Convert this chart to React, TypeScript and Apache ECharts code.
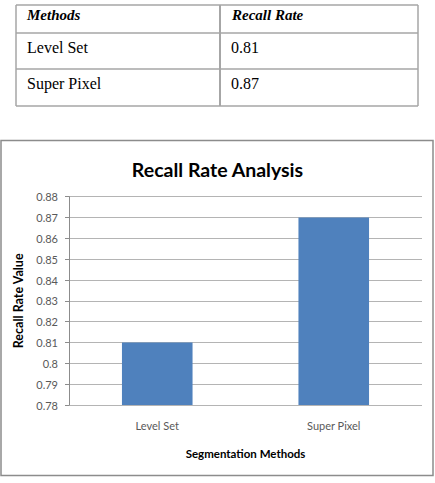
import React, { useEffect, useRef } from "react";
import * as echarts from "echarts";

const methods = ["Level Set", "Super Pixel"];
const recallRates = [0.81, 0.87];
const tableHeaders = ["Methods", "Recall Rate"];
const chartTitle = "Recall Rate Analysis";
const xAxisTitle = "Segmentation Methods";
const yAxisTitle = "Recall Rate Value";
const yMin = 0.78;
const yMax = 0.88;
const yStep = 0.01;

const serif = "'Liberation Serif', 'Times New Roman', serif";
const sans = "Lato, 'Open Sans', sans-serif";

export default function App() {
  const ref = useRef<HTMLDivElement>(null);
  useEffect(() => {
    if (!ref.current) return;
    const chart = echarts.init(ref.current, null, { renderer: "svg" });

    const tableLine = "#a6a6a6";
    const tableX0 = 16, tableX1 = 418, colX = 220;
    const rowYs = [5, 33, 69, 106];
    const textY = [15, 47, 83];
    const graphics: any[] = [];
    rowYs.forEach((y) =>
      graphics.push({ type: "line", shape: { x1: tableX0, y1: y, x2: tableX1, y2: y }, style: { stroke: tableLine, lineWidth: 1.5 } })
    );
    [tableX0, colX, tableX1].forEach((x) =>
      graphics.push({ type: "line", shape: { x1: x, y1: rowYs[0], x2: x, y2: rowYs[3] }, style: { stroke: tableLine, lineWidth: x === colX ? 2 : 1.5 } })
    );
    tableHeaders.forEach((h, i) =>
      graphics.push({
        type: "text",
        x: i === 0 ? 27 : 232,
        y: textY[0],
        style: { text: h, font: `italic bold 15px ${serif}`, fill: "#000", verticalAlign: "middle" },
      })
    );
    methods.forEach((m, r) => {
      graphics.push({ type: "text", x: 27, y: textY[r + 1], style: { text: m, font: `16px ${serif}`, fill: "#000", verticalAlign: "middle" } });
      graphics.push({ type: "text", x: 231, y: textY[r + 1], style: { text: recallRates[r].toFixed(2), font: `16px ${serif}`, fill: "#000", verticalAlign: "middle" } });
    });
    graphics.push({ type: "rect", shape: { x: 1, y: 140.5, width: 432, height: 335 }, style: { fill: "none", stroke: "#8c8c8c", lineWidth: 1.5 } });

    chart.setOption({
      animation: false,
      title: {
        text: chartTitle,
        left: "center",
        top: 154,
        textStyle: { fontFamily: sans, fontWeight: "bold", fontSize: 19.5, color: "#000" },
      },
      grid: { left: 69, right: 13, top: 196.7, bottom: 78, containLabel: false },
      xAxis: {
        type: "category",
        data: methods,
        axisLine: { show: false },
        axisTick: { show: false },
        axisLabel: { color: "#595959", fontFamily: sans, fontSize: 11, margin: 15 },
        name: xAxisTitle,
        nameLocation: "middle",
        nameGap: 42,
        nameTextStyle: { fontFamily: sans, fontWeight: "bold", fontSize: 11.5, color: "#000" },
      },
      yAxis: {
        type: "value",
        min: yMin,
        max: yMax,
        interval: yStep,
        axisLine: { show: true, lineStyle: { color: "#8c8c8c" } },
        axisTick: { show: true, length: 4, lineStyle: { color: "#8c8c8c" } },
        axisLabel: {
          color: "#595959",
          fontFamily: sans,
          fontSize: 11,
          margin: 11,
          formatter: (v: number) => String(+v.toFixed(2)),
        },
        splitLine: { show: true, lineStyle: { color: "#b4b4b4", width: 1 } },
        name: yAxisTitle,
        nameLocation: "middle",
        nameGap: 35,
        nameRotate: 90,
        nameTextStyle: { fontFamily: sans, fontWeight: "bold", fontSize: 12.5, color: "#000" },
      },
      series: [
        {
          type: "bar",
          data: recallRates,
          barWidth: "40%",
          itemStyle: { color: "#4f81bd" },
        },
      ],
      graphic: graphics,
    });
    return () => chart.dispose();
  }, []);
  return (
    <div
      ref={ref}
      style={{ position: "fixed", left: 0, top: 0, width: 435, height: 483, background: "#fff" }}
    />
  );
}
